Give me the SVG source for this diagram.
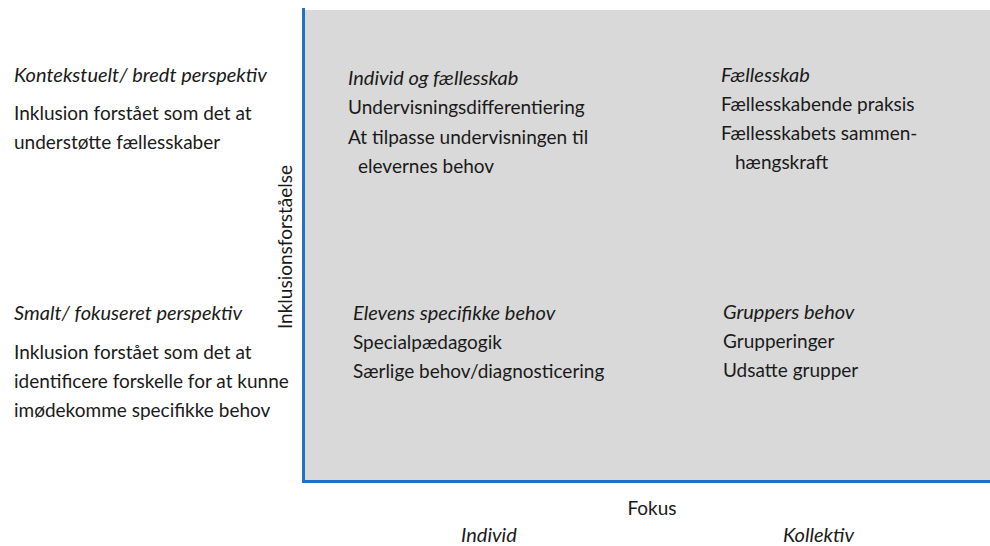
<svg xmlns="http://www.w3.org/2000/svg" width="990" height="546" viewBox="0 0 990 546">
<style>
text{font-family:Lato,"Open Sans","Liberation Sans",sans-serif;font-size:19px;fill:#1a1a1a}
.i{font-style:italic;font-size:20px}
.axis{stroke:#2470c2;stroke-width:3;fill:none}
</style>
<rect x="0" y="0" width="990" height="546" fill="#ffffff"/>
<g id="quadrant-area">
<rect x="303" y="10" width="687" height="470" fill="#d9d9d9"/>
</g>
<g id="connectors">
<polyline class="axis" points="303.5,8 303.5,481.5 990,481.5"/>
</g>
<g id="left-top">
<text x="14" y="82" class="i">Kontekstuelt/ bredt perspektiv</text>
<text x="14" y="120">Inklusion forstået som det at</text>
<text x="14" y="149">understøtte fællesskaber</text>
</g>
<g id="left-bottom">
<text x="14" y="320" class="i">Smalt/ fokuseret perspektiv</text>
<text x="14" y="359">Inklusion forstået som det at</text>
<text x="14" y="388">identificere forskelle for at kunne</text>
<text x="14" y="417">imødekomme specifikke behov</text>
</g>
<g id="y-axis-label">
<text transform="translate(292,247) rotate(-90)" text-anchor="middle">Inklusionsforståelse</text>
</g>
<g id="q-individ-faellesskab">
<text x="348" y="85" class="i">Individ og fællesskab</text>
<text x="348" y="114">Undervisningsdifferentiering</text>
<text x="348" y="144">At tilpasse undervisningen til</text>
<text x="358" y="173">elevernes behov</text>
</g>
<g id="q-faellesskab">
<text x="721" y="82" class="i">Fællesskab</text>
<text x="721" y="111">Fællesskabende praksis</text>
<text x="721" y="140">Fællesskabets sammen-</text>
<text x="735" y="169">hængskraft</text>
</g>
<g id="q-elevens">
<text x="353" y="320" class="i">Elevens specifikke behov</text>
<text x="353" y="349">Specialpædagogik</text>
<text x="353" y="378">Særlige behov/diagnosticering</text>
</g>
<g id="q-gruppers">
<text x="723" y="319" class="i">Gruppers behov</text>
<text x="723" y="348">Grupperinger</text>
<text x="723" y="377">Udsatte grupper</text>
</g>
<g id="x-axis-labels">
<text x="652" y="515" text-anchor="middle">Fokus</text>
<text x="461" y="542" class="i">Individ</text>
<text x="783" y="542" class="i">Kollektiv</text>
</g>
</svg>
